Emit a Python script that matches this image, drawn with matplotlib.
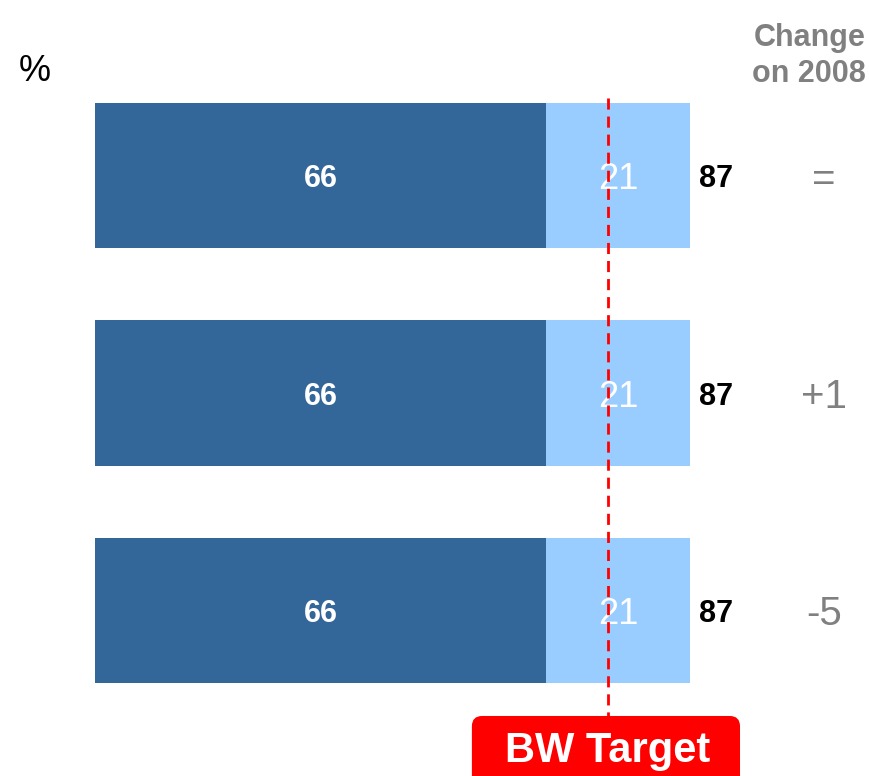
import numpy as np
import matplotlib.pyplot as plt
from matplotlib.patches import FancyBboxPatch

# Data
rows = ["Row 1", "Row 2", "Row 3"]
dark_vals = [66, 66, 66]
light_vals = [21, 21, 21]
totals = [87, 87, 87]
changes = ["=", "+1", "-5"]
target = 75

dark_col = "#336699"
light_col = "#99CCFF"
grey = "#808080"

plt.rcParams["font.family"] = ["Liberation Sans", "DejaVu Sans"]

fig = plt.figure(figsize=(8.7, 7.76), dpi=100)
ax = fig.add_axes([0, 0, 1, 1])

y = np.arange(len(rows))
ax.barh(y, dark_vals, height=0.67, color=dark_col)
ax.barh(y, light_vals, left=dark_vals, height=0.67, color=light_col)

for i in range(len(rows)):
    ax.text(dark_vals[i] / 2, y[i], str(dark_vals[i]), ha="center",
            va="center_baseline", color="white", fontsize=22, fontweight="bold")
    ax.text(dark_vals[i] + light_vals[i] / 2, y[i], str(light_vals[i]),
            ha="center", va="center_baseline", color="white", fontsize=26)
    ax.text(totals[i] + 3.8, y[i], str(totals[i]), ha="center",
            va="center_baseline", color="black", fontsize=22, fontweight="bold")
    ax.text(106.6, y[i], changes[i], ha="center", va="center_baseline",
            color=grey, fontsize=29)

# target line
ax.plot([target, target], [-0.356, 2.49], color="#FF0000", lw=2,
        linestyle=(0, (4, 2.5)), zorder=5)

# target label box
box = FancyBboxPatch((target - 19.9, 2.485), 39.2, 0.5,
                     boxstyle="round,pad=0,rounding_size=1.5",
                     mutation_aspect=0.0315, fc="#FF0000", ec="none", zorder=6)
ax.add_patch(box)
ax.text(target, 2.645, "BW Target", ha="center", va="center", color="white",
        fontsize=30, fontweight="bold", zorder=7)

# header texts
ax.text(112.7, -0.55, "Change\non 2008", ha="right", va="center", color=grey,
        fontsize=22, fontweight="bold", linespacing=1.25)
ax.text(-8.8, -0.48, "%", ha="center", va="center", color="black",
        fontsize=26)

ax.set_xlim(-95 / 6.84, 775 / 6.84)
ax.set_ylim(2.761, -0.807)
ax.axis("off")

fig.savefig("out.png", dpi=100)
